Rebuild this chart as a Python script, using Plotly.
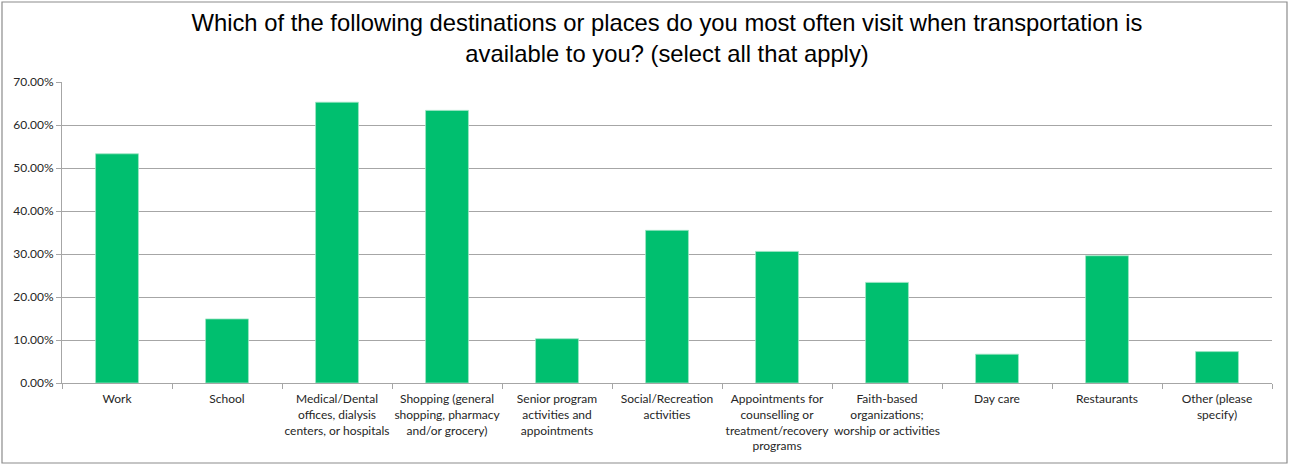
import plotly.graph_objects as go

# Survey responses: share of respondents per destination
categories = [
    "Work",
    "School",
    "Medical/Dental<br>offices, dialysis<br>centers, or hospitals",
    "Shopping (general<br>shopping, pharmacy<br>and/or grocery)",
    "Senior program<br>activities and<br>appointments",
    "Social/Recreation<br>activities",
    "Appointments for<br>counselling or<br>treatment/recovery<br>programs",
    "Faith-based<br>organizations;<br>worship or activities",
    "Day care",
    "Restaurants",
    "Other (please<br>specify)",
]
shares = [0.533, 0.149, 0.653, 0.634, 0.103, 0.355, 0.306, 0.234, 0.067, 0.296, 0.073]

y_ticks = [0, 0.1, 0.2, 0.3, 0.4, 0.5, 0.6, 0.7]
y_tick_labels = ["0.00%", "10.00%", "20.00%", "30.00%", "40.00%", "50.00%", "60.00%", "70.00%"]

title_text = ("Which of the following destinations or places do you most often visit when transportation is"
              "<br>available to you? (select all that apply)")

W, H = 1291, 466
L, R, T, B = 62, 19, 82, 83
pw, ph = W - L - R, H - T - B

fig = go.Figure(
    go.Bar(
        x=categories,
        y=shares,
        marker=dict(color="#00BF6F", line=dict(color="#9FE5C4", width=0.8)),
        width=0.39,
        hoverinfo="x+y",
    )
)

grid = "#A6A6A6"
fig.update_layout(
    width=W,
    height=H,
    margin=dict(l=L, r=R, t=T, b=B),
    paper_bgcolor="white",
    plot_bgcolor="white",
    showlegend=False,
    title=dict(
        text=title_text,
        x=0.5,
        xanchor="center",
        xref="paper",
        y=1 - 31 / H,
        yref="container",
        yanchor="middle",
        font=dict(family="Liberation Sans, Arial, sans-serif", size=23.8, color="#000000"),
    ),
    font=dict(family="Lato, Calibri, sans-serif", size=12, color="#262626"),
)

fig.update_xaxes(
    type="category",
    showline=True,
    linecolor=grid,
    linewidth=1,
    ticks="outside",
    tickson="boundaries",
    ticklen=5,
    tickcolor=grid,
    tickangle=0,
    automargin=False,
    ticklabelstandoff=5,
    tickfont=dict(size=12, color="#262626"),
    showgrid=False,
)
fig.update_yaxes(
    range=[0, 0.7],
    tickvals=y_ticks,
    ticktext=y_tick_labels,
    showline=True,
    linecolor=grid,
    linewidth=1,
    ticks="outside",
    ticklen=5,
    tickcolor=grid,
    automargin=False,
    showgrid=True,
    gridcolor=grid,
    gridwidth=1,
    zeroline=False,
    tickfont=dict(size=12, color="#262626"),
)

# Frame around the whole chart area
def px_x(v):
    return (v - L) / pw

def px_y(v):
    return (H - B - v) / ph

fig.add_shape(
    type="rect",
    xref="paper",
    yref="paper",
    x0=px_x(2),
    x1=px_x(1287),
    y0=px_y(463),
    y1=px_y(2),
    line=dict(color="#8C8C8C", width=1.2),
    layer="below",
)

fig.write_html("out.html")
